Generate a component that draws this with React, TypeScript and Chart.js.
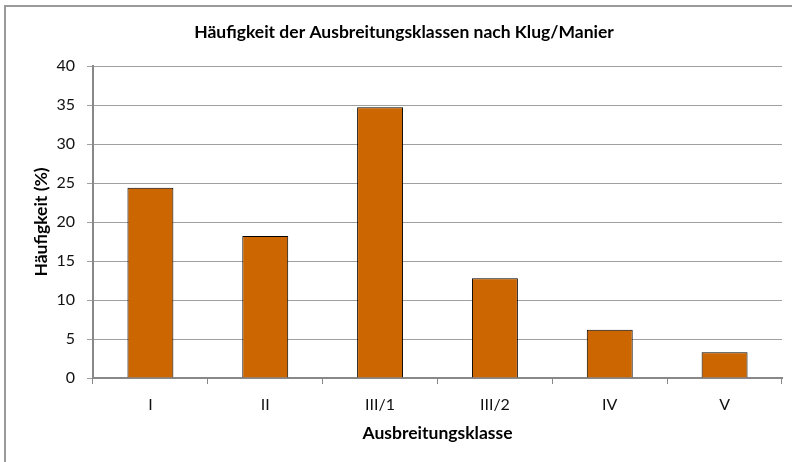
import React, { useEffect, useRef } from "react";
import { Chart, registerables } from "chart.js";

Chart.register(...registerables);

const categories = ["I", "II", "III/1", "III/2", "IV", "V"];
const frequencies = [24.4, 18.2, 34.7, 12.8, 6.2, 3.3];
const chartTitle = "Häufigkeit der Ausbreitungsklassen nach Klug/Manier";
const xAxisTitle = "Ausbreitungsklasse";
const yAxisTitle = "Häufigkeit (%)";
const yMin = 0;
const yMax = 40;
const yStep = 5;

const FONT = "Lato, 'Open Sans', sans-serif";

export default function App() {
  const ref = useRef<HTMLCanvasElement>(null);

  useEffect(() => {
    document.body.style.margin = "0";
    document.body.style.overflow = "hidden";
    const framePlugin = {
      id: "frameAndTitle",
      beforeDraw(chart: any) {
        const ctx = chart.ctx;
        ctx.save();
        ctx.fillStyle = "#ffffff";
        ctx.fillRect(0, 0, chart.width, chart.height);
        ctx.strokeStyle = "#9a9a9a";
        ctx.lineWidth = 2;
        ctx.strokeRect(5, 6, chart.width + 20, chart.height + 20);
        ctx.fillStyle = "#000000";
        ctx.font = `bold 17.5px ${FONT}`;
        ctx.textAlign = "center";
        ctx.textBaseline = "middle";
        ctx.fillText(chartTitle, 404, 32);
        ctx.restore();
      },
    };

    const chart = new Chart(ref.current as HTMLCanvasElement, {
      type: "bar",
      data: {
        labels: categories,
        datasets: [
          {
            data: frequencies,
            backgroundColor: "#CC6600",
            borderColor: "#000000",
            borderWidth: 1,
            barPercentage: 0.4,
            categoryPercentage: 1,
          },
        ],
      },
      plugins: [framePlugin],
      options: {
        animation: false,
        responsive: false,
        layout: { padding: { top: 66, right: 10, left: 0, bottom: 0 } },
        plugins: {
          legend: { display: false },
          tooltip: { enabled: false },
          title: { display: false },
        },
        scales: {
          x: {
            grid: {
              offset: true,
              drawOnChartArea: false,
              drawTicks: true,
              tickLength: 6,
              color: "#888888",
              lineWidth: 1,
            },
            border: { color: "#888888", width: 2 },
            ticks: {
              color: "#111111",
              font: { family: FONT, size: 16 },
              padding: 11,
            },
            title: {
              display: true,
              text: xAxisTitle,
              color: "#000000",
              font: { family: FONT, size: 17.5, weight: "bold" },
              padding: { top: 0, bottom: 18.5 },
            },
            afterFit(scale: any) {
              scale.height = 84;
            },
          },
          y: {
            min: yMin,
            max: yMax,
            ticks: {
              stepSize: yStep,
              color: "#111111",
              font: { family: FONT, size: 16 },
              padding: 12,
            },
            grid: {
              color: "#a0a0a0",
              lineWidth: 1,
              tickLength: 6,
              drawTicks: true,
            },
            border: { color: "#888888", width: 2 },
            title: {
              display: true,
              text: yAxisTitle,
              color: "#000000",
              font: { family: FONT, size: 17.5, weight: "bold" },
              padding: { top: 31, bottom: 0 },
            },
            afterFit(scale: any) {
              scale.width = 93;
            },
          },
        },
      },
    } as any);

    return () => chart.destroy();
  }, []);

  return (
    <div style={{ position: "absolute", left: 0, top: 0, width: 792, height: 462 }}>
      <canvas ref={ref} width={792} height={462} style={{ display: "block", width: 792, height: 462 }} />
    </div>
  );
}
